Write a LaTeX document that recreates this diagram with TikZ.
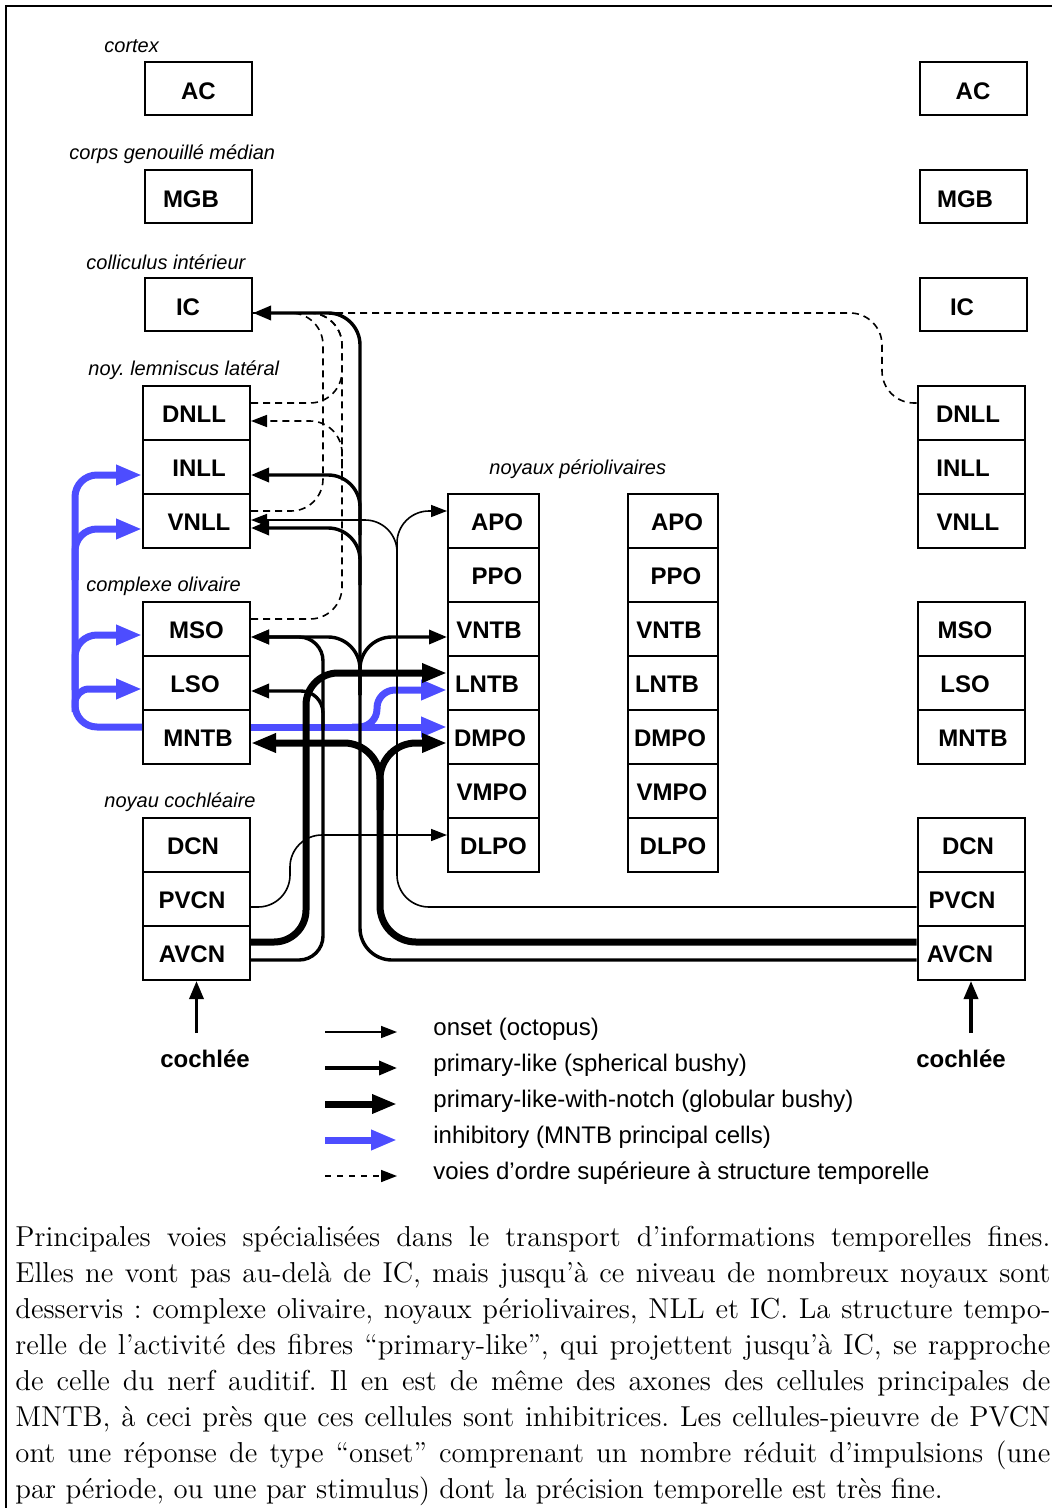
\documentclass[tikz,border=0pt]{standalone}
\usepackage{fontspec}
\newfontfamily\arial{Liberation Sans}
\usetikzlibrary{arrows.meta}
\definecolor{inhibblue}{RGB}{77,77,255}
\begin{document}
\begin{tikzpicture}[x=0.5pt,y=-0.5pt,
  box/.style={draw, line width=1pt, inner sep=0pt, minimum height=27pt,
    text height=9.8pt, text depth=0pt,
    font=\arial\bfseries\fontsize{12}{14}\selectfont},
  lbox/.style={box, minimum width=53.5pt},
  tbox/.style={lbox, minimum height=26.5pt, text height=11pt},
  mbox/.style={box, minimum width=45.5pt},
  grp/.style={anchor=west, inner sep=0pt, font=\arial\itshape\fontsize{10}{12}\selectfont},
  legtext/.style={anchor=west, inner sep=0pt, font=\arial\fontsize{12}{14}\selectfont},
  onset/.style={line width=0.8pt, -{Triangle[length=8pt,width=6pt]}, rounded corners=16pt},
  prim/.style={line width=1.7pt, -{Triangle[length=9pt,width=7pt]}, rounded corners=16pt},
  notch/.style={line width=3.5pt, -{Triangle[length=12.5pt,width=9pt]}, rounded corners=16pt},
  inhib/.style={line width=3.5pt, color=inhibblue, -{Triangle[length=13pt,width=9.5pt]}, rounded corners=11pt},
  higher/.style={line width=0.8pt, dash pattern=on 3.5pt off 2.5pt, rounded corners=16pt},
]
\useasboundingbox (0,0) rectangle (1051,1508);
% frame
\draw[line width=1pt] (6,1510) -- (6,6) -- (1053,6);

% group labels
\node[grp] (gcx) at (104,46) {cortex};
\node[grp] (gcg) at (69,154) {corps genouillé médian};
\node[grp] (gci) at (86,262) {colliculus intérieur};
\node[grp] (gnl) at (88,370) {noy.\ lemniscus latéral};
\node[grp] (gco) at (86,586) {complexe olivaire};
\node[grp] (gnc) at (104,802) {noyau cochléaire};
\node[grp] (gpo) at (489,469) {noyaux périolivaires};

% left column
\node[tbox] (lAC) at (198.5,88.5) {AC};
\node[tbox] (lMGB) at (198.5,196.5) {\hspace*{-7.5pt}MGB};
\node[tbox] (lIC) at (198.5,304.5) {\hspace*{-10.5pt}IC};
\node[lbox] (lDNLL) at (196.5,413) {\hspace*{-2.5pt}DNLL};
\node[lbox] (lINLL) at (196.5,467) {\hspace*{2.5pt}INLL};
\node[lbox] (lVNLL) at (196.5,521) {\hspace*{2.5pt}VNLL};
\node[lbox] (lMSO) at (196.5,629) {MSO};
\node[lbox] (lLSO) at (196.5,683) {\hspace*{-1.5pt}LSO};
\node[lbox] (lMNTB) at (196.5,737) {\hspace*{1.5pt}MNTB};
\node[lbox] (lDCN) at (196.5,845) {\hspace*{-3.5pt}DCN};
\node[lbox] (lPVCN) at (196.5,899) {\hspace*{-4.5pt}PVCN};
\node[lbox] (lAVCN) at (196.5,953) {\hspace*{-4.5pt}AVCN};

% periolivary column 1
\node[mbox] (mAPO) at (493.5,521) {\hspace*{3.5pt}APO};
\node[mbox] (mPPO) at (493.5,575) {\hspace*{3.5pt}PPO};
\node[mbox] (mVNTB) at (493.5,629) {\hspace*{-4.5pt}VNTB};
\node[mbox] (mLNTB) at (493.5,683) {\hspace*{-6.5pt}LNTB};
\node[mbox] (mDMPO) at (493.5,737) {\hspace*{-3.5pt}DMPO};
\node[mbox] (mVMPO) at (493.5,791) {\hspace*{-1.5pt}VMPO};
\node[mbox] (mDLPO) at (493.5,845) {DLPO};

% periolivary column 2
\node[mbox, minimum width=45pt] (nAPO) at (673,521) {\hspace*{4pt}APO};
\node[mbox, minimum width=45pt] (nPPO) at (673,575) {\hspace*{3pt}PPO};
\node[mbox, minimum width=45pt] (nVNTB) at (673,629) {\hspace*{-4pt}VNTB};
\node[mbox, minimum width=45pt] (nLNTB) at (673,683) {\hspace*{-6pt}LNTB};
\node[mbox, minimum width=45pt] (nDMPO) at (673,737) {\hspace*{-3pt}DMPO};
\node[mbox, minimum width=45pt] (nVMPO) at (673,791) {\hspace*{-1pt}VMPO};
\node[mbox, minimum width=45pt] (nDLPO) at (673,845) {DLPO};

% right column
\node[tbox] (rAC) at (973,88.5) {AC};
\node[tbox] (rMGB) at (973,196.5) {\hspace*{-8pt}MGB};
\node[tbox] (rIC) at (973,304.5) {\hspace*{-11pt}IC};
\node[lbox] (rDNLL) at (971,413) {\hspace*{-3pt}DNLL};
\node[lbox] (rINLL) at (971,467) {\hspace*{-8pt}INLL};
\node[lbox] (rVNLL) at (971,521) {\hspace*{-3pt}VNLL};
\node[lbox] (rMSO) at (971,629) {\hspace*{-6pt}MSO};
\node[lbox] (rLSO) at (971,683) {\hspace*{-6pt}LSO};
\node[lbox] (rMNTB) at (971,737) {\hspace*{2pt}MNTB};
\node[lbox] (rDCN) at (971,845) {\hspace*{-3pt}DCN};
\node[lbox] (rPVCN) at (971,899) {\hspace*{-9pt}PVCN};
\node[lbox] (rAVCN) at (971,953) {\hspace*{-11pt}AVCN};

% higher order (dashed)
\draw[higher] (lVNLL.east |- 0,511) -- (323,511) -- (323,313) -- (lIC.east |- 0,313);
\draw[higher] (lDNLL.east |- 0,403) -- (342,403) -- (342,313) -- (lIC.east |- 0,313);
\draw[higher] (lMSO.east |- 0,619) -- (342,619) -- (342,313) -- (lIC.east |- 0,313);
\draw[higher, -{Triangle[length=8pt,width=6pt]}] (342,478) -- (342,421) -- (lDNLL.east |- 0,421);
\draw[higher] (rDNLL.west |- 0,403) -- (882,403) -- (882,313) -- (lIC.east |- 0,313);

% inhibitory (blue)
\draw[inhib] (lMNTB.west |- 0,727) -- (75,727) -- (75,475) -- (lINLL.west |- 0,475);
\draw[inhib] (75,580) -- (75,529) -- (lVNLL.west |- 0,529);
\draw[inhib] (75,690) -- (75,635) -- (lMSO.west |- 0,635);
\draw[inhib, rounded corners=7pt] (75,712) -- (75,689) -- (lLSO.west |- 0,689);
\draw[inhib] (lMNTB.east |- 0,727) -- (mDMPO.west |- 0,727);
\draw[inhib, rounded corners=9pt] (352,727) -- (377,727) -- (377,690) -- (mLNTB.west |- 0,690);

% onset (octopus)
\draw[onset] (rPVCN.west |- 0,907) -- (397,907) -- (397,520) -- (lVNLL.east |- 0,520);
\draw[onset] (397,570) -- (397,511) -- (mAPO.west |- 0,511);
\draw[onset] (lPVCN.east |- 0,907) -- (290,907) -- (290,835) -- (mDLPO.west |- 0,835);

% primary-like (spherical bushy)
\draw[prim] (rAVCN.west |- 0,960) -- (360,960) -- (360,313) -- (lIC.east |- 0,313);
\draw[prim] (360,535) -- (360,475) -- (lINLL.east |- 0,475);
\draw[prim] (360,585) -- (360,528) -- (lVNLL.east |- 0,528);
\draw[prim] (360,695) -- (360,637) -- (lMSO.east |- 0,637);
\draw[prim] (360,695) -- (360,637) -- (mVNTB.west |- 0,637);
\draw[prim, rounded corners=12pt] (lAVCN.east |- 0,960) -- (323,960) -- (323,637) -- (lMSO.east |- 0,637);
\draw[prim, rounded corners=11pt] (323,730) -- (323,691) -- (lLSO.east |- 0,691);

% primary-like-with-notch (globular bushy)
\draw[notch] (lAVCN.east |- 0,942) -- (306,942) -- (306,673) -- (mLNTB.west |- 0,673);
\draw[notch, rounded corners=18pt] (rAVCN.west |- 0,942) -- (380,942) -- (380,743) -- (lMNTB.east |- 0,743);
\draw[notch, rounded corners=18pt] (380,810) -- (380,743) -- (mDMPO.west |- 0,743);

% cochlea inputs
\node[font=\arial\bfseries\fontsize{12}{14}\selectfont, inner sep=0pt] (lcoch) at (205,1059) {cochlée};
\node[font=\arial\bfseries\fontsize{12}{14}\selectfont, inner sep=0pt] (rcoch) at (961,1059) {cochlée};
\draw[prim] (lAVCN.south |- 0,1033) -- (lAVCN.south);
\draw[prim] (rAVCN.south |- 0,1033) -- (rAVCN.south);

% legend
\coordinate (k1) at (325,1032); \coordinate (k1e) at (397,1032);
\coordinate (k2) at (325,1068); \coordinate (k2e) at (397,1068);
\coordinate (k3) at (325,1104); \coordinate (k3e) at (397,1104);
\coordinate (k4) at (325,1140); \coordinate (k4e) at (397,1140);
\coordinate (k5) at (325,1176); \coordinate (k5e) at (397,1176);
\draw[onset] (k1) -- (k1e);
\draw[prim] (k2) -- (k2e);
\draw[notch] (k3) -- (k3e);
\draw[inhib] (k4) -- (k4e);
\draw[higher, dash pattern=on 3pt off 3pt, -{Triangle[length=8pt,width=6pt]}] (k5) -- (k5e);
\node[legtext] (t1) at (433,1029) {onset (octopus)};
\node[legtext] (t2) at (433,1065) {primary-like (spherical bushy)};
\node[legtext] (t3) at (433,1101) {primary-like-with-notch (globular bushy)};
\node[legtext] (t4) at (433,1137) {inhibitory (MNTB principal cells)};
\node[legtext] (t5) at (433,1173) {voies d’ordre supérieure à structure temporelle};

% caption
\node[anchor=north west, inner sep=0pt, text width=517.5pt, align=justify,
  font=\fontsize{14.4}{18}\selectfont] (caption) at (15,1226)
{\hyphenpenalty=10000\exhyphenpenalty=10000\frenchspacing
Principales voies spécialisées dans le transport d’informations temporelles fines.\linebreak
Elles ne vont pas au-delà de IC, mais jusqu’à ce niveau de nombreux noyaux sont\linebreak
desservis : complexe olivaire, noyaux périolivaires, NLL et IC. La structure tempo-\linebreak
relle de l’activité des fibres “primary-like”, qui projettent jusqu’à IC, se rapproche\linebreak
de celle du nerf auditif. Il en est de même des axones des cellules principales de\linebreak
MNTB, à ceci près que ces cellules sont inhibitrices. Les cellules-pieuvre de PVCN\linebreak
ont une réponse de type “onset” comprenant un nombre réduit d’impulsions (une\linebreak
par période, ou une par stimulus) dont la précision temporelle est très fine.};
\end{tikzpicture}
\end{document}
